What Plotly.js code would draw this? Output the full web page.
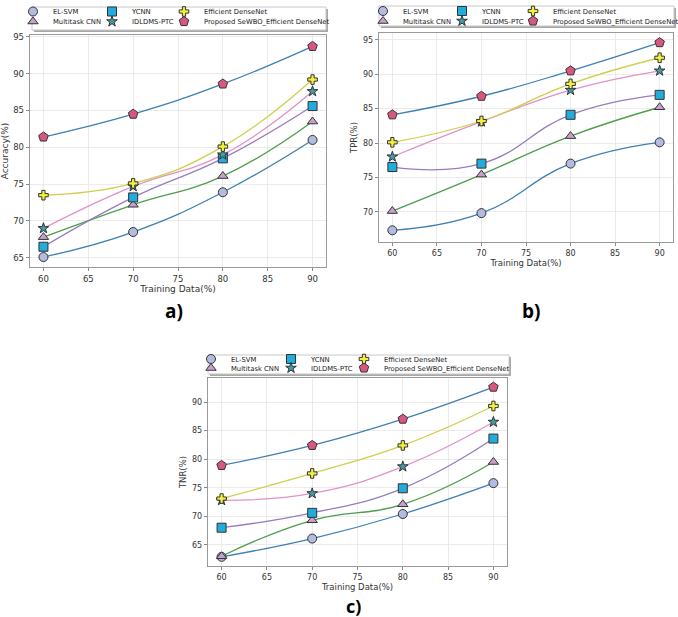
<!DOCTYPE html>
<html>
<head>
<meta charset="utf-8">
<script src="https://cdn.plot.ly/plotly-3.0.1.min.js"></script>
<style>
  html, body { margin: 0; padding: 0; background: #fff; }
  #chart { width: 678px; height: 617px; }
</style>
</head>
<body>
<div id="chart"></div>
<script>
// training data share on the x axis
var trainingData = [60, 70, 80, 90];
var methods = ['EL-SVM', 'Multitask CNN', 'YCNN', 'IDLDMS-PTC', 'Efficient DenseNet', 'Proposed SeWBO_Efficient DenseNet'];

// a) accuracy
var accElSvm     = [65.1, 68.5, 73.9, 81.0];
var accMultitask = [67.8, 72.2, 76.1, 83.5];
var accYcnn      = [66.5, 73.2, 78.5, 85.6];
var accIdldms    = [69.0, 74.7, 79.0, 87.6];
var accEfficient = [73.5, 75.1, 80.1, 89.2];
var accProposed  = [81.4, 84.5, 88.6, 93.7];

// b) TPR
var tprElSvm     = [67.3, 69.8, 77.0, 80.1];
var tprMultitask = [70.1, 75.4, 81.0, 85.2];
var tprYcnn      = [76.5, 77.0, 84.1, 87.0];
var tprIdldms    = [78.0, 83.1, 87.7, 90.5];
var tprEfficient = [80.1, 83.2, 88.6, 92.4];
var tprProposed  = [84.1, 86.8, 90.5, 94.6];

// c) TNR
var tnrElSvm     = [62.9, 66.1, 70.4, 75.8];
var tnrMultitask = [63.0, 69.3, 72.1, 79.5];
var tnrYcnn      = [68.0, 70.6, 74.9, 83.6];
var tnrIdldms    = [72.8, 74.0, 78.7, 86.5];
var tnrEfficient = [73.1, 77.5, 82.4, 89.3];
var tnrProposed  = [78.9, 82.4, 87.0, 92.6];

var W = 678, H = 617;
function px(x) { return x / W; }
function py(y) { return 1 - y / H; }

var lineColors = ['#3d80b3', '#4c9e4c', '#977dbd', '#e291c8', '#cfcf4c', '#3d80b3'];
var fillColors = ['#b3bbe0', '#c8a0cb', '#22acdb', '#3f9ea6', '#f3f03c', '#d9577f'];
var symbols = ['circle', 'triangle-up', 'square', 'star', 'cross', 'pentagon'];
var sizes = [9, 9, 9, 8, 8, 10];

var font = 'DejaVu Sans, sans-serif';

var panels = [
  { name: 'a)', ytitle: 'Accuracy(%)', series: [accElSvm, accMultitask, accYcnn, accIdldms, accEfficient, accProposed],
    box: [30, 35, 326, 267], yrange: [63.75, 95.25], tick: 8.5, standoff: 3,
    legCols: [39, 118, 190], legRows: [11.5, 21.5], legBox: [32, 7, 326, 30], label: [174, 311], labelSize: 19 },
  { name: 'b)', ytitle: 'TPR(%)', series: [tprElSvm, tprMultitask, tprYcnn, tprIdldms, tprEfficient, tprProposed],
    box: [379, 33, 673, 242], yrange: [65.6, 96.0], tick: 8, standoff: 3,
    legCols: [389, 468, 539], legRows: [11, 21], legBox: [379, 6, 674, 26], label: [531, 311], labelSize: 19 },
  { name: 'c)', ytitle: 'TNR(%)', series: [tnrElSvm, tnrMultitask, tnrYcnn, tnrIdldms, tnrEfficient, tnrProposed],
    box: [208, 378, 507, 566], yrange: [61.3, 94.2], tick: 8, standoff: 0,
    legCols: [217, 297, 370], legRows: [359, 368], legBox: [208, 355, 509, 374], label: [353, 606], labelSize: 18 }
];

var traces = [];
var layout = {
  width: W, height: H,
  margin: { l: 0, r: 0, t: 0, b: 0, autoexpand: false },
  paper_bgcolor: '#fff', plot_bgcolor: '#fff',
  font: { family: font, color: '#333' },
  showlegend: true,
  shapes: [], annotations: []
};

panels.forEach(function (p, i) {
  var n = i === 0 ? '' : String(i + 1);
  var xa = 'x' + n, ya = 'y' + n;

  layout['xaxis' + n] = {
    domain: [px(p.box[0]), px(p.box[2])], anchor: ya,
    range: [58.5, 91.5], dtick: 5, tick0: 60,
    showline: true, mirror: true, linecolor: '#9a9a9a', linewidth: 1.3,
    showgrid: true, gridcolor: '#e6e6e6', gridwidth: 0.8, zeroline: false,
    ticks: 'outside', ticklen: 3, tickcolor: '#888',
    tickfont: { size: p.tick, color: '#333' },
    title: { text: 'Training Data(%)', font: { size: p.tick + 0.5, color: '#333' }, standoff: p.standoff }
  };
  layout['yaxis' + n] = {
    domain: [py(p.box[3]), py(p.box[1])], anchor: xa,
    range: p.yrange, dtick: 5, tick0: 60,
    showline: true, mirror: true, linecolor: '#9a9a9a', linewidth: 1.3,
    showgrid: true, gridcolor: '#e6e6e6', gridwidth: 0.8, zeroline: false,
    ticks: 'outside', ticklen: 3, tickcolor: '#888',
    tickfont: { size: p.tick, color: '#333' },
    title: { text: p.ytitle, font: { size: p.tick + 0.5, color: '#333' }, standoff: 4 }
  };

  // smooth lines
  p.series.forEach(function (vals, s) {
    traces.push({
      x: trainingData, y: vals, xaxis: xa, yaxis: ya,
      type: 'scatter', mode: 'lines', showlegend: false, hoverinfo: 'skip',
      line: { shape: 'spline', smoothing: 1.3, color: lineColors[s], width: 1.3 }
    });
  });

  // markers, each with its own little legend entry
  p.series.forEach(function (vals, s) {
    var idx = i * 6 + s + 1;
    var lid = idx === 1 ? 'legend' : 'legend' + idx;
    traces.push({
      x: trainingData, y: vals, xaxis: xa, yaxis: ya,
      type: 'scatter', mode: 'markers', name: methods[s], legend: lid,
      marker: { symbol: symbols[s], size: sizes[s], color: fillColors[s], line: { color: '#333', width: 1 } }
    });
    var col = Math.floor(s / 2), row = s % 2;
    layout[lid] = {
      x: px(p.legCols[col] - 26), y: py(p.legRows[row]),
      xanchor: 'left', yanchor: 'middle',
      bgcolor: 'rgba(0,0,0,0)', borderwidth: 0,
      font: { family: font, size: 6.8, color: '#222' },
      itemclick: false, itemdoubleclick: false
    };
  });

  // legend frame with a small shadow
  var b = p.legBox;
  layout.shapes.push({ type: 'rect', xref: 'paper', yref: 'paper', layer: 'above',
    x0: px(b[0] + 2), x1: px(b[2] + 2), y0: py(b[3] + 2), y1: py(b[1] + 2),
    fillcolor: '#a8a8a8', line: { width: 0 } });
  layout.shapes.push({ type: 'rect', xref: 'paper', yref: 'paper', layer: 'above',
    x0: px(b[0]), x1: px(b[2]), y0: py(b[3]), y1: py(b[1]),
    fillcolor: '#fff', line: { color: '#c8c8c8', width: 1 } });

  layout.annotations.push({
    text: '<b>' + p.name + '</b>', xref: 'paper', yref: 'paper',
    x: px(p.label[0]), y: py(p.label[1]), xanchor: 'center', yanchor: 'middle',
    showarrow: false, font: { family: 'Open Sans, sans-serif', size: p.labelSize, color: '#000' }
  });
});

Plotly.newPlot('chart', traces, layout, { displayModeBar: false, staticPlot: true });
</script>
</body>
</html>
